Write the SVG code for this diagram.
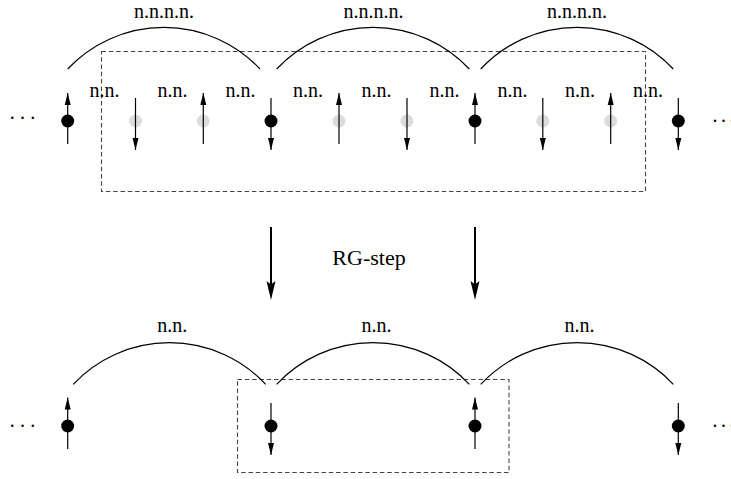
<svg xmlns="http://www.w3.org/2000/svg" width="731" height="479" viewBox="0 0 731 479">
<style>
text{font-family:"Liberation Serif","Times New Roman",serif;font-size:20px;fill:#000}
.lbl{text-anchor:middle}
.rg{font-size:22px;text-anchor:middle}
.dots{letter-spacing:5.2px}
.dotsr{letter-spacing:3.5px}
.arc{fill:none;stroke:#000;stroke-width:1.2}
.box{fill:none;stroke:#444;stroke-width:1.1;stroke-dasharray:4.5 2.8}
.spin{stroke:#000;stroke-width:1.2;marker-end:url(#ah)}
.on{fill:#000}
.off{fill:#dcdcdc}
.big{stroke:#000;stroke-width:2}
</style>
<defs>
<marker id="ah" markerUnits="userSpaceOnUse" markerWidth="12" markerHeight="7" refX="12" refY="3.5" orient="auto">
<path d="M0,0.5 L12,3.5 L0,6.5 Z" fill="#000"/>
</marker>
</defs>
<rect x="0" y="0" width="731" height="479" fill="#fff"/>

<rect class="box" x="101.5" y="51.5" width="544" height="140"/>
<rect class="box" x="237.5" y="379.5" width="271.5" height="93"/>

<g id="top-sites">
<g id="t0"><circle class="on" cx="67.7" cy="121" r="6.5"/><line class="spin" x1="67.7" y1="144" x2="67.7" y2="93"/></g>
<g id="t1"><circle class="off" cx="135.5" cy="121" r="6.5"/><line class="spin" x1="135.5" y1="98" x2="135.5" y2="150"/></g>
<g id="t2"><circle class="off" cx="203.3" cy="121" r="6.5"/><line class="spin" x1="203.3" y1="144" x2="203.3" y2="93"/></g>
<g id="t3"><circle class="on" cx="271" cy="121" r="6.5"/><line class="spin" x1="271" y1="98" x2="271" y2="150"/></g>
<g id="t4"><circle class="off" cx="339" cy="121" r="6.5"/><line class="spin" x1="339" y1="144" x2="339" y2="93"/></g>
<g id="t5"><circle class="off" cx="407" cy="121" r="6.5"/><line class="spin" x1="407" y1="98" x2="407" y2="150"/></g>
<g id="t6"><circle class="on" cx="475" cy="121" r="6.5"/><line class="spin" x1="475" y1="144" x2="475" y2="93"/></g>
<g id="t7"><circle class="off" cx="542.8" cy="121" r="6.5"/><line class="spin" x1="542.8" y1="98" x2="542.8" y2="150"/></g>
<g id="t8"><circle class="off" cx="610.7" cy="121" r="6.5"/><line class="spin" x1="610.7" y1="144" x2="610.7" y2="93"/></g>
<g id="t9"><circle class="on" cx="678.3" cy="121" r="6.5"/><line class="spin" x1="678.3" y1="98" x2="678.3" y2="150"/></g>
</g>

<g id="bottom-sites">
<g id="b0"><circle class="on" cx="67.7" cy="426" r="6.5"/><line class="spin" x1="67.7" y1="449" x2="67.7" y2="397.5"/></g>
<g id="b1"><circle class="on" cx="271" cy="426" r="6.5"/><line class="spin" x1="271" y1="403" x2="271" y2="455"/></g>
<g id="b2"><circle class="on" cx="475" cy="426" r="6.5"/><line class="spin" x1="475" y1="449" x2="475" y2="397.5"/></g>
<g id="b3"><circle class="on" cx="678.3" cy="426" r="6.5"/><line class="spin" x1="678.3" y1="403" x2="678.3" y2="455"/></g>
</g>

<g id="connectors">
<path class="arc" d="M67.7,69 A132,132 0 0 1 260,69"/>
<path class="arc" d="M276.7,69 A132,132 0 0 1 469.3,69"/>
<path class="arc" d="M480.7,69 A132,132 0 0 1 673.3,69"/>
<path class="arc" d="M73.3,384.3 A132,132 0 0 1 265.7,384.3"/>
<path class="arc" d="M276.7,384.3 A132,132 0 0 1 469.3,384.3"/>
<path class="arc" d="M480.7,384.3 A132,132 0 0 1 673.3,384.3"/>
<line class="big" x1="271" y1="227" x2="271" y2="286"/>
<path d="M271,300 L266.5,281 L271,284.5 L275.5,281 Z" fill="#000"/>
<line class="big" x1="475" y1="227" x2="475" y2="286"/>
<path d="M475,300 L470.5,281 L475,284.5 L479.5,281 Z" fill="#000"/>
</g>

<g id="labels">
<text class="lbl" x="164" y="18">n.n.n.n.</text>
<text class="lbl" x="373.5" y="18">n.n.n.n.</text>
<text class="lbl" x="577" y="18">n.n.n.n.</text>
<text class="lbl" x="104.5" y="97">n.n.</text>
<text class="lbl" x="172.5" y="97">n.n.</text>
<text class="lbl" x="240.5" y="97">n.n.</text>
<text class="lbl" x="308" y="97">n.n.</text>
<text class="lbl" x="376.5" y="97">n.n.</text>
<text class="lbl" x="444.5" y="97">n.n.</text>
<text class="lbl" x="512.5" y="97">n.n.</text>
<text class="lbl" x="580" y="97">n.n.</text>
<text class="lbl" x="648" y="97">n.n.</text>
<text class="lbl" x="172.3" y="332">n.n.</text>
<text class="lbl" x="376.5" y="332">n.n.</text>
<text class="lbl" x="579.5" y="332">n.n.</text>
<text class="rg" x="369" y="265">RG-step</text>
<text class="dots" x="9.8" y="119">...</text>
<text class="dotsr" x="712.5" y="121.5">...</text>
<text class="dots" x="9.8" y="426.5">...</text>
<text class="dotsr" x="712.5" y="426.5">...</text>
</g>
</svg>
